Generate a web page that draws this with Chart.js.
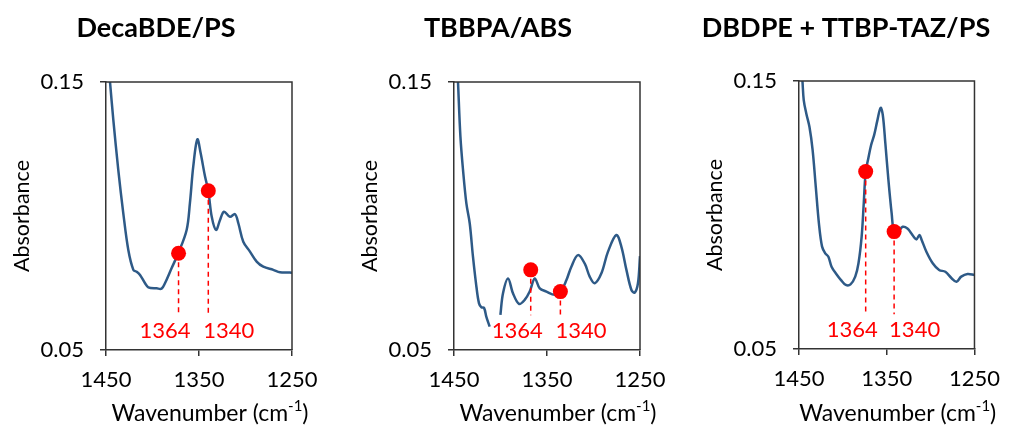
<!DOCTYPE html>
<html>
<head>
<meta charset="utf-8">
<script src="https://cdn.jsdelivr.net/npm/chart.js@4.4.0/dist/chart.umd.min.js"></script>
<style>
  html, body { margin: 0; padding: 0; background: #fff; overflow: hidden; }
  body { width: 1011px; height: 428px; position: relative; }
  canvas { position: absolute; top: 0; }
</style>
</head>
<body>
<canvas id="c1" width="330" height="428" style="left:0px"></canvas>
<canvas id="c2" width="330" height="428" style="left:348px"></canvas>
<canvas id="c3" width="318" height="428" style="left:693px"></canvas>
<script>
const xTicks = [1450, 1350, 1250];
const yTicks = [0.05, 0.15];
const markerTags = ['1364', '1340'];
const tagAbs = 0.057;   // height of the red numbers
const dashEnd = 0.063;  // where the dashed drop lines stop

// DecaBDE/PS
const decaWn = [1447.3, 1445.7, 1442.1, 1436.8, 1431.4, 1426.0, 1420.6, 1417.0, 1413.4, 1408.0, 1404.5, 1395.5, 1390.2, 1386.6, 1379.5, 1372.3, 1363.3, 1359.8, 1356.2, 1351.8, 1348.2, 1343.5, 1340.0, 1336.3, 1331.7, 1327.4, 1323.1, 1316.7, 1311.3, 1307.7, 1302.4, 1295.2, 1288.0, 1280.9, 1270.1, 1262.9, 1252.2, 1250];
const decaAbs = [0.156, 0.150, 0.1358, 0.1172, 0.101, 0.0873, 0.0799, 0.0792, 0.078, 0.0749, 0.0734, 0.073, 0.0729, 0.0749, 0.0805, 0.0861, 0.0948, 0.1047, 0.1184, 0.1286, 0.1234, 0.1147, 0.1094, 0.0997, 0.0948, 0.0985, 0.1016, 0.0997, 0.1007, 0.0973, 0.0904, 0.0867, 0.083, 0.0811, 0.0799, 0.079, 0.0789, 0.0788];
const decaMarkWn = [1372, 1340];
const decaMarkAbs = [0.0861, 0.1094];

// TBBPA/ABS (the trace has a break near 1406)
const tbbWn = [1447.3, 1445.7, 1443.1, 1440.3, 1436.7, 1433.1, 1429.6, 1425.9, 1423.1, 1420.5, 1417.7, 1415.2, 1411.6, 1406, 1400.1, 1397.3, 1391.9, 1386.6, 1380.1, 1374.0, 1368.6, 1363.2, 1357.8, 1350.6, 1341.7, 1335.6, 1329.1, 1323.8, 1316.7, 1309.5, 1304.1, 1298.7, 1291.5, 1284.4, 1275.4, 1270.0, 1264.6, 1259.2, 1255.7, 1252.2, 1250.0];
const tbbAbs = [0.162, 0.150, 0.1296, 0.1172, 0.1047, 0.0973, 0.0848, 0.0736, 0.0674, 0.0659, 0.0657, 0.0624, 0.0587, null, 0.0631, 0.0712, 0.0767, 0.0712, 0.0672, 0.0687, 0.0718, 0.0767, 0.073, 0.0718, 0.0706, 0.0716, 0.0761, 0.0811, 0.0854, 0.0823, 0.0774, 0.0749, 0.0786, 0.0867, 0.0929, 0.0885, 0.0799, 0.0724, 0.0714, 0.0749, 0.085];
const tbbMarkWn = [1367.5, 1335.6];
const tbbMarkAbs = [0.0799, 0.0718];

// DBDPE + TTBP-TAZ/PS
const dbdWn = [1447.5, 1446, 1444.6, 1441.7, 1438.1, 1434.5, 1430.9, 1427.3, 1423.7, 1420.1, 1416.5, 1412.9, 1407.5, 1402.1, 1396.7, 1391.3, 1385.9, 1382.2, 1378.6, 1376.2, 1374.0, 1371.4, 1367.8, 1364.3, 1360.6, 1357.0, 1354.5, 1351.6, 1348.1, 1344.4, 1341.6, 1337.2, 1331.8, 1326.4, 1322.1, 1316.3, 1312.7, 1310.2, 1304.8, 1297.6, 1290.3, 1283.2, 1276.1, 1270.5, 1265.1, 1257.9, 1250];
const dbdAbs = [0.157, 0.1497, 0.1429, 0.1379, 0.1329, 0.1243, 0.1106, 0.0969, 0.0882, 0.0857, 0.0844, 0.0807, 0.078, 0.0757, 0.0739, 0.0741, 0.077, 0.082, 0.0919, 0.1044, 0.1162, 0.1205, 0.1261, 0.1299, 0.1354, 0.14, 0.1373, 0.1268, 0.1131, 0.1006, 0.0938, 0.0938, 0.0956, 0.095, 0.0932, 0.0909, 0.0925, 0.0907, 0.0863, 0.082, 0.0795, 0.0788, 0.0764, 0.0751, 0.077, 0.078, 0.0776];
const dbdMarkWn = [1374, 1341.6];
const dbdMarkAbs = [0.1162, 0.0938];

const FONT = 'Lato';
const AXIS = '#333';
const LINE = '#2e5a87';
const RED = '#ff0000';

// box, panel title, x axis title with superscript, red wavenumber tags
const decor = {
    id: 'decor',
    afterDraw(chart, args, opts) {
        const { ctx, chartArea: a, scales: { x, y } } = chart;
        ctx.save();
        ctx.strokeStyle = AXIS;
        ctx.lineWidth = 1.5;
        ctx.beginPath();
        ctx.moveTo(a.left, a.top);
        ctx.lineTo(a.right, a.top);
        ctx.lineTo(a.right, a.bottom);
        ctx.stroke();

        ctx.fillStyle = '#000';
        ctx.font = 'bold 27px ' + FONT;
        ctx.textAlign = 'center';
        ctx.textBaseline = 'middle';
        ctx.fillText(opts.title, opts.titleX, 28);

        // Wavenumber (cm-1)
        const main = 'Wavenumber (cm', sup = '-1', close = ')';
        ctx.textAlign = 'left';
        ctx.textBaseline = 'alphabetic';
        ctx.font = '23px ' + FONT;
        const w1 = ctx.measureText(main).width, w3 = ctx.measureText(close).width;
        ctx.font = '15px ' + FONT;
        const w2 = ctx.measureText(sup).width;
        let tx = (a.left + a.right) / 2 + 11 - (w1 + w2 + w3) / 2;
        ctx.font = '23px ' + FONT;
        ctx.fillText(main, tx, 421);
        ctx.font = '15px ' + FONT;
        ctx.fillText(sup, tx + w1, 411);
        ctx.font = '23px ' + FONT;
        ctx.fillText(close, tx + w1 + w2, 421);

        ctx.fillStyle = RED;
        ctx.font = '22px ' + FONT;
        ctx.textBaseline = 'middle';
        const ty = y.getPixelForValue(tagAbs);
        ctx.textAlign = 'right';
        ctx.fillText(markerTags[0], x.getPixelForValue(opts.markWn[0]) + 12, ty);
        ctx.textAlign = 'left';
        ctx.fillText(markerTags[1], x.getPixelForValue(opts.markWn[1]) - 5, ty);
        ctx.restore();
    }
};

function makeChart(id, title, titleX, wn, abs, markWn, markAbs, pad) {
    const ctx = document.getElementById(id).getContext('2d');
    const spectrum = wn.map((v, i) => ({ x: v, y: abs[i] }));
    const markers = markWn.map((v, i) => ({ x: v, y: markAbs[i] }));
    const drop = i => ({
        data: [{ x: markWn[i], y: markAbs[i] }, { x: markWn[i], y: dashEnd }],
        showLine: true,
        borderColor: RED,
        borderWidth: 1.5,
        borderDash: [5, 4],
        pointRadius: 0
    });

    return new Chart(ctx, {
        type: 'scatter',
        data: {
            datasets: [
                {
                    data: markers,
                    pointRadius: 7.5,
                    pointBackgroundColor: RED,
                    pointBorderWidth: 0
                },
                drop(0),
                drop(1),
                {
                    data: spectrum,
                    showLine: true,
                    spanGaps: false,
                    borderColor: LINE,
                    borderWidth: 2.5,
                    pointRadius: 0,
                    tension: 0.35
                }
            ]
        },
        options: {
            responsive: false,
            animation: false,
            layout: {
                padding: { left: 0, right: pad.right, top: pad.top, bottom: 0 }
            },
            scales: {
                x: {
                    type: 'linear',
                    reverse: true,
                    min: 1250,
                    max: 1450,
                    afterBuildTicks: s => { s.ticks = xTicks.map(v => ({ value: v })); },
                    afterFit: s => { s.height = 428 - pad.bottomEdge; },
                    ticks: {
                        callback: v => String(v),
                        color: '#000',
                        padding: 11,
                        maxRotation: 0,
                        font: { family: FONT, size: 22 }
                    },
                    grid: { drawOnChartArea: false, drawTicks: true, tickLength: 6, color: AXIS, lineWidth: 1.5 },
                    border: { color: AXIS, width: 1.5 }
                },
                y: {
                    min: 0.05,
                    max: 0.15,
                    afterBuildTicks: s => { s.ticks = yTicks.map(v => ({ value: v })); },
                    afterFit: s => { s.width = 106; },
                    ticks: {
                        callback: v => v.toFixed(2),
                        color: '#000',
                        padding: 16,
                        font: { family: FONT, size: 22 }
                    },
                    grid: { drawOnChartArea: false, drawTicks: true, tickLength: 6, color: AXIS, lineWidth: 1.5 },
                    border: { color: AXIS, width: 1.5 },
                    title: {
                        display: true,
                        text: 'Absorbance',
                        color: '#000',
                        padding: { top: 9, bottom: 0 },
                        font: { family: FONT, size: 21.5 }
                    }
                }
            },
            plugins: {
                legend: { display: false },
                tooltip: { enabled: false },
                decor: { title: title, titleX: titleX, markWn: markWn }
            }
        },
        plugins: [decor]
    });
}

makeChart('c1', 'DecaBDE/PS', 156, decaWn, decaAbs, decaMarkWn, decaMarkAbs, { right: 38, top: 82, bottomEdge: 350 });
makeChart('c2', 'TBBPA/ABS', 150, tbbWn, tbbAbs, tbbMarkWn, tbbMarkAbs, { right: 38, top: 82, bottomEdge: 350 });
makeChart('c3', 'DBDPE + TTBP-TAZ/PS', 153, dbdWn, dbdAbs, dbdMarkWn, dbdMarkAbs, { right: 27, top: 81, bottomEdge: 349 });
</script>
</body>
</html>
